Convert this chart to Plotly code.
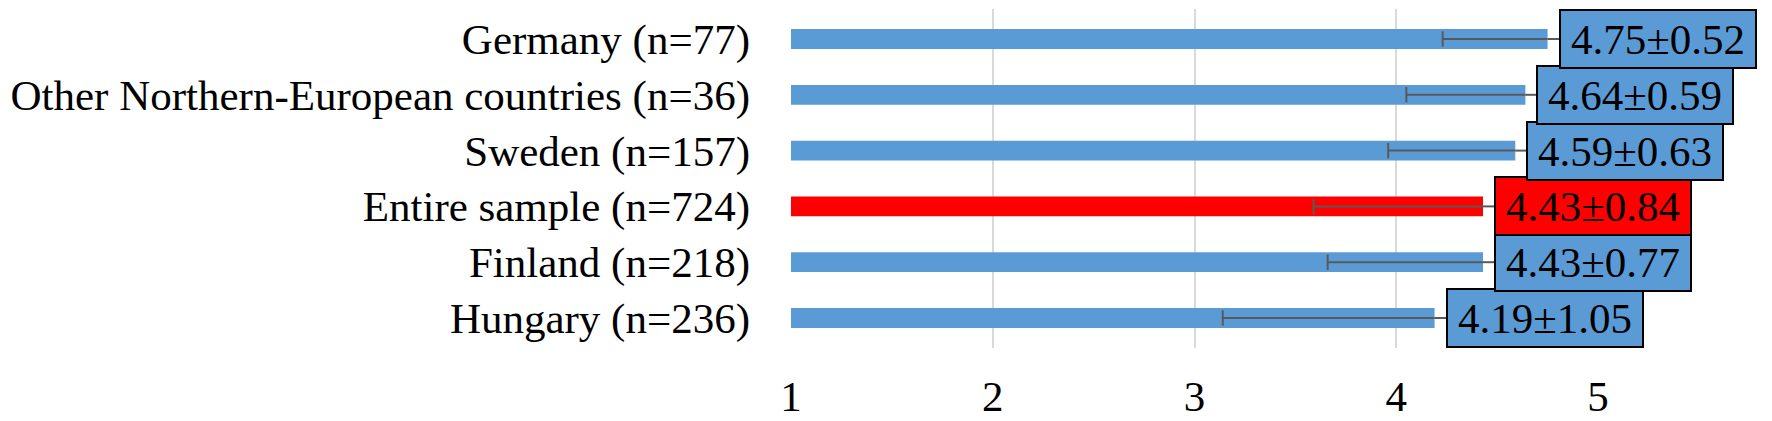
import plotly.graph_objects as go

categories = [
    "Germany (n=77)",
    "Other Northern-European countries (n=36)",
    "Sweden (n=157)",
    "Entire sample (n=724)",
    "Finland (n=218)",
    "Hungary (n=236)",
]
means = [4.75, 4.64, 4.59, 4.43, 4.43, 4.19]
sds = [0.52, 0.59, 0.63, 0.84, 0.77, 1.05]
highlight = "Entire sample (n=724)"
x_ticks = [1, 2, 3, 4, 5]

BLUE = "#5B9BD5"
RED = "#FF0000"
ERR = "#595959"
FONT = "Times New Roman, Liberation Serif, serif"

colors = [RED if c == highlight else BLUE for c in categories]

fig = go.Figure()
fig.add_trace(go.Bar(
    x=means, y=categories, orientation="h",
    marker=dict(color=colors, line=dict(width=0)),
    width=0.354,
    error_x=dict(type="data", symmetric=False, array=[0] * len(means),
                 arrayminus=sds, color=ERR, thickness=2, width=0),
    hoverinfo="skip", showlegend=False,
))
# error bar caps at mean - sd
fig.add_trace(go.Scatter(
    x=[m - s for m, s in zip(means, sds)], y=categories, mode="markers",
    marker=dict(symbol="line-ns", size=11, line=dict(width=2, color=ERR)),
    hoverinfo="skip", showlegend=False,
))

shapes = []
annotations = []
for cat, m, s, col in reversed(list(zip(categories, means, sds, colors))):
    shapes.append(dict(type="line", xref="x", yref="y", xsizemode="pixel",
                       xanchor=m, x0=0, x1=12, y0=cat, y1=cat,
                       line=dict(color=ERR, width=2)))
    annotations.append(dict(
        x=m, y=cat, xref="x", yref="y", text=f"{m:.2f}±{s:.2f}",
        showarrow=False, xanchor="left", yanchor="middle", xshift=11,
        width=194, height=56, align="center", valign="middle",
        bgcolor=col, bordercolor="black", borderwidth=2, borderpad=0,
        font=dict(family=FONT, size=43, color="black"),
    ))

fig.update_layout(
    template="none",
    width=1772, height=421,
    margin=dict(l=791, r=174, t=9, b=73, autoexpand=False),
    paper_bgcolor="white", plot_bgcolor="white",
    shapes=shapes, annotations=annotations,
    font=dict(family=FONT, size=43, color="black"),
    xaxis=dict(range=[1, 5], tickvals=x_ticks, ticktext=[str(t) for t in x_ticks],
               automargin=False,
               showgrid=True, gridcolor="#D9D9D9", gridwidth=2,
               zeroline=False, showline=False, ticks="",
               ticklabelstandoff=19,
               tickfont=dict(family=FONT, size=43, color="black")),
    yaxis=dict(categoryorder="array", categoryarray=categories,
               automargin=False,
               autorange="reversed", showgrid=False, zeroline=False,
               showline=False, ticks="", ticklabelstandoff=40,
               tickfont=dict(family=FONT, size=43, color="black")),
)

fig.write_html("out.html", config={"displayModeBar": False},
               post_script="document.body.style.margin='0';document.body.style.overflow='hidden';")
